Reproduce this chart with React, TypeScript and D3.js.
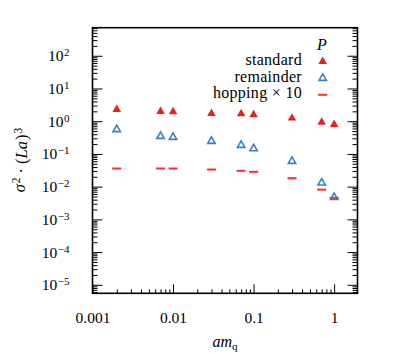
import { useEffect, useRef } from "react";
import * as d3 from "d3";

// quark mass values (x) and the three contributions
const amq = [0.002, 0.007, 0.01, 0.03, 0.07, 0.1, 0.3, 0.7, 1];
const standard = [2.28, 1.98, 1.94, 1.72, 1.68, 1.57, 1.24, 0.93, 0.79];
const remainder = [0.557, 0.348, 0.324, 0.244, 0.184, 0.146, 0.06, 0.0131, 0.0047];
const hopping10 = [0.0358, 0.0358, 0.0358, 0.0333, 0.0304, 0.0284, 0.0181, 0.0081, 0.00454];

const xMajor = [0.001, 0.01, 0.1, 1];
const xMajorLabels = ["0.001", "0.01", "0.1", "1"];
const yExponents = [-5, -4, -3, -2, -1, 0, 1, 2];
const legendLabels = ["standard", "remainder", "hopping × 10"];

const RED = "#e8211f";
const BLUE = "#3a80c0";
const DASH_RED = "#ff2a2a";
const FONT = "Liberation Serif";

const App = () => {
  const ref = useRef<SVGSVGElement | null>(null);

  useEffect(() => {
    document.body.style.margin = "0";
    if (!ref.current) return;

    const W = 411;
    const H = 360;
    const left = 92.5;
    const right = 357.5;
    const top = 27.7;
    const bottom = 293.3;

    const svg = d3
      .select(ref.current)
      .html("")
      .attr("width", W)
      .attr("height", H)
      .attr("font-family", FONT);

    const x = d3.scaleLog().domain([0.001, 1.95]).range([left, right]);
    const y = d3.scaleLog().domain([5.5e-6, 720]).range([bottom, top]);

    // minor ticks for log axes
    const minorTicks = (lo: number, hi: number, from: number, to: number) => {
      const out: number[] = [];
      for (let e = from; e <= to; e++) {
        for (let m = 2; m <= 9; m++) {
          const v = m * Math.pow(10, e);
          if (v > lo && v < hi) out.push(v);
        }
      }
      return out;
    };
    const xMinor = minorTicks(0.001, 1.95, -3, 0);
    const yMinor = minorTicks(5.5e-6, 720, -6, 2);
    const yMajor = yExponents.map((e) => Math.pow(10, e));

    // x axis (bottom, ticks inward)
    const gx = svg.append("g").attr("transform", `translate(0,${bottom})`);
    gx.call(d3.axisBottom(x).tickValues(xMinor).tickSize(-4).tickFormat(() => ""));
    const gxMaj = svg.append("g").attr("transform", `translate(0,${bottom})`);
    gxMaj.call(
      d3
        .axisBottom(x)
        .tickValues(xMajor)
        .tickSize(-9)
        .tickPadding(18.5)
        .tickFormat((_, i) => xMajorLabels[i])
    );

    // y axis left and right (ticks inward)
    const gyMin = svg.append("g").attr("transform", `translate(${left},0)`);
    gyMin.call(d3.axisLeft(y).tickValues(yMinor).tickSize(-5).tickFormat(() => ""));
    const gyMaj = svg.append("g").attr("transform", `translate(${left},0)`);
    gyMaj.call(d3.axisLeft(y).tickValues(yMajor).tickSize(-10).tickPadding(23).tickFormat(() => ""));
    const gyRMin = svg.append("g").attr("transform", `translate(${right},0)`);
    gyRMin.call(d3.axisRight(y).tickValues(yMinor).tickSize(-5).tickFormat(() => ""));
    const gyRMaj = svg.append("g").attr("transform", `translate(${right},0)`);
    gyRMaj.call(d3.axisRight(y).tickValues(yMajor).tickSize(-10).tickFormat(() => ""));

    svg.selectAll(".domain").remove();
    svg.selectAll(".tick line").attr("stroke", "#000").attr("stroke-width", 1);
    svg.selectAll("g").attr("font-family", FONT);

    gxMaj.selectAll(".tick text").attr("fill", "#000").attr("font-size", 15.5);

    // y labels 10^n with superscripts
    gyMaj.selectAll<SVGTextElement, number>(".tick text").each(function (d) {
      const t = d3.select(this);
      t.text("").attr("fill", "#000").attr("font-size", 15.5);
      t.append("tspan").text("10");
      t.append("tspan")
        .attr("dx", 0.5)
        .attr("dy", "-0.45em")
        .attr("font-size", 11)
        .text(String(Math.round(Math.log10(d))).replace("-", "−"));
    });

    // frame
    svg
      .append("rect")
      .attr("x", left)
      .attr("y", top)
      .attr("width", right - left)
      .attr("height", bottom - top)
      .attr("fill", "none")
      .attr("stroke", "#000")
      .attr("stroke-width", 1.6);

    const triFilled = d3.symbol(d3.symbolTriangle, 32);
    const triOpen = d3.symbol(d3.symbolTriangle, 24);

    // hopping x 10
    svg
      .append("g")
      .selectAll("line")
      .data(amq)
      .join("line")
      .attr("x1", (d) => x(d) - 4.5)
      .attr("x2", (d) => x(d) + 4.5)
      .attr("y1", (_, i) => y(hopping10[i]))
      .attr("y2", (_, i) => y(hopping10[i]))
      .attr("stroke", DASH_RED)
      .attr("stroke-width", 2);

    // remainder
    svg
      .append("g")
      .selectAll("path")
      .data(amq)
      .join("path")
      .attr("transform", (d, i) => `translate(${x(d)},${y(remainder[i])})`)
      .attr("d", triOpen() as string)
      .attr("fill", "none")
      .attr("stroke", BLUE)
      .attr("stroke-width", 1.6);

    // standard
    svg
      .append("g")
      .selectAll("path")
      .data(amq)
      .join("path")
      .attr("transform", (d, i) => `translate(${x(d)},${y(standard[i])})`)
      .attr("d", triFilled() as string)
      .attr("fill", RED);

    // legend
    const leg = svg
      .append("g")
      .attr("font-family", FONT)
      .attr("font-size", 16)
      .attr("letter-spacing", 0.3);
    leg
      .append("text")
      .attr("x", 322)
      .attr("y", 50)
      .attr("text-anchor", "middle")
      .attr("font-style", "italic")
      .text("P");
    const rowY = [65, 81.7, 98.3];
    legendLabels.forEach((lab, i) => {
      leg
        .append("text")
        .attr("x", 302)
        .attr("y", rowY[i])
        .attr("text-anchor", "end")
        .text(lab);
    });
    leg
      .append("path")
      .attr("transform", `translate(322.7,${rowY[0] - 3.5})`)
      .attr("d", triFilled() as string)
      .attr("fill", RED);
    leg
      .append("path")
      .attr("transform", `translate(322.7,${rowY[1] - 3.5})`)
      .attr("d", triOpen() as string)
      .attr("fill", "none")
      .attr("stroke", BLUE)
      .attr("stroke-width", 1.6);
    leg
      .append("line")
      .attr("x1", 318.2)
      .attr("x2", 327.2)
      .attr("y1", rowY[2] - 3.5)
      .attr("y2", rowY[2] - 3.5)
      .attr("stroke", DASH_RED)
      .attr("stroke-width", 2);

    // axis titles
    const xt = svg
      .append("text")
      .attr("x", 225)
      .attr("y", 347)
      .attr("text-anchor", "middle")
      .attr("font-size", 16);
    xt.append("tspan").attr("font-style", "italic").text("am");
    xt.append("tspan").attr("dy", "0.3em").attr("font-size", 11).text("q");

    const yt = svg
      .append("text")
      .attr("transform", `translate(25,160) rotate(-90)`)
      .attr("text-anchor", "middle")
      .attr("font-size", 16.5);
    yt.append("tspan").attr("font-style", "italic").text("σ");
    yt.append("tspan").attr("dx", 1).attr("dy", "-0.45em").attr("font-size", 11.5).text("2");
    yt.append("tspan").attr("dx", 4).attr("dy", "0.45em").text("·");
    yt.append("tspan").attr("dx", 4).text("(");
    yt.append("tspan").attr("font-style", "italic").text("La");
    yt.append("tspan").attr("dx", 1).text(")");
    yt.append("tspan").attr("dx", 1).attr("dy", "-0.45em").attr("font-size", 11.5).text("3");
  }, []);

  return <svg ref={ref}></svg>;
};

export default App;
